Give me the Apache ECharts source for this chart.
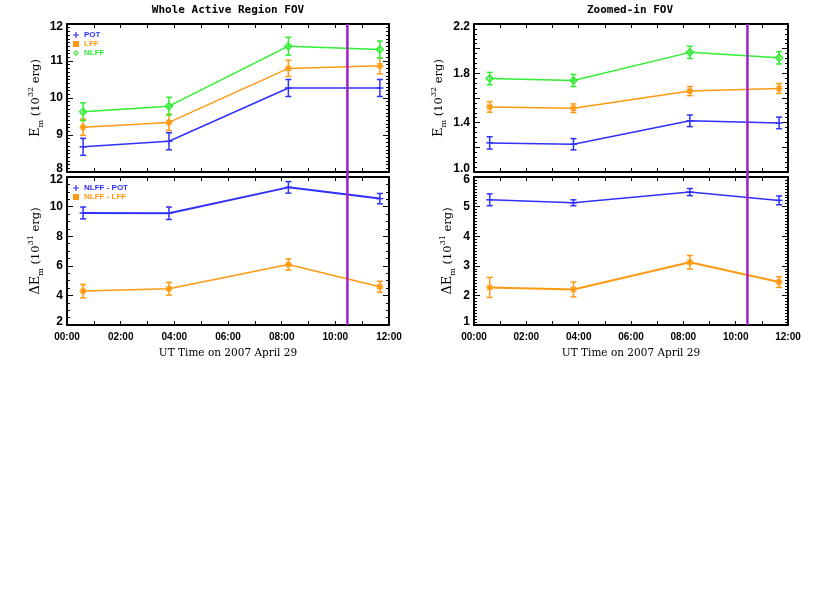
<!DOCTYPE html>
<html>
<head>
<meta charset="utf-8">
<script src="https://cdn.jsdelivr.net/npm/echarts@6.0.0/dist/echarts.min.js"></script>
<style>
  html, body { margin: 0; padding: 0; background: #fff; }
  #chart { width: 830px; height: 593px; }
</style>
</head>
<body>
<div id="chart"></div>
<script>
// UT hours of the four magnetograms, and the flare time (purple line)
var hours = [0.6, 3.8, 8.25, 11.66];
var flareHour = 10.45;
var timeLabels = ['00:00', '02:00', '04:00', '06:00', '08:00', '10:00', '12:00'];

// whole active region, E_m in 1e32 erg
var potWhole = [8.68, 8.83, 10.27, 10.27];
var potWholeErr = [0.23, 0.23, 0.23, 0.23];
var lffWhole = [9.21, 9.34, 10.80, 10.87];
var lffWholeErr = [0.22, 0.22, 0.22, 0.22];
var nlffWhole = [9.63, 9.78, 11.40, 11.31];
var nlffWholeErr = [0.24, 0.24, 0.24, 0.23];
// free energy, 1e31 erg
var dPotWhole = [9.57, 9.55, 11.30, 10.54];
var dPotWholeErr = [0.40, 0.42, 0.39, 0.35];
var dLffWhole = [4.29, 4.45, 6.09, 4.58];
var dLffWholeErr = [0.45, 0.43, 0.38, 0.37];

// zoomed-in FOV
var potZoom = [1.236, 1.225, 1.415, 1.398];
var potZoomErr = [0.050, 0.046, 0.047, 0.047];
var lffZoom = [1.528, 1.517, 1.656, 1.677];
var lffZoomErr = [0.043, 0.035, 0.037, 0.040];
var nlffZoom = [1.758, 1.742, 1.970, 1.926];
var nlffZoomErr = [0.050, 0.049, 0.050, 0.050];
var dPotZoom = [5.23, 5.13, 5.49, 5.21];
var dPotZoomErr = [0.20, 0.10, 0.12, 0.15];
var dLffZoom = [2.27, 2.20, 3.12, 2.45];
var dLffZoomErr = [0.34, 0.25, 0.23, 0.18];

var BLUE = '#3030ff', ORANGE = '#ff9a10', GREEN = '#30ee30', PURPLE = '#a020c8';
var SANS = 'Liberation Sans', SERIF = 'DejaVu Serif', MONO = 'DejaVu Sans Mono';

var plusIcon = 'path://M4,0h2v4h4v2h-4v4h-2v-4h-4v-2h4z';
var starIcon = 'path://M0,0h10v10h-10z';
var diamondIcon = 'path://M5,0L10,5L5,10L0,5Z M5,2.5L2.5,5L5,7.5L7.5,5Z';

var panels = [
  {left: 67, top: 24, width: 322},
  {left: 67, top: 177, width: 322},
  {left: 474, top: 24, width: 314},
  {left: 474, top: 177, width: 314}
];

var grid = panels.map(function (p) {
  return {left: p.left, top: p.top, width: p.width, height: 148};
});
// invisible grids spanning both panels, for the flare line
grid.push({left: 67, top: 24, width: 322, height: 301});
grid.push({left: 474, top: 24, width: 314, height: 301});

var xAxis = [], yAxis = [];

function addX(gi, labels) {
  ['bottom', 'top'].forEach(function (pos) {
    xAxis.push({
      type: 'value', gridIndex: gi, position: pos, min: 0, max: 12, interval: 1,
      axisLine: {show: true, onZero: false, lineStyle: {color: '#000', width: 2}},
      axisTick: {show: true, inside: true, length: 4, lineStyle: {color: '#000', width: 1}},
      splitLine: {show: false},
      axisLabel: {
        show: labels && pos === 'bottom', color: '#000', fontFamily: SANS, fontSize: 10,
        fontWeight: 'bold', margin: 7,
        formatter: function (v) { return v % 2 === 0 ? timeLabels[v / 2] : ''; }
      },
      name: labels && pos === 'bottom' ? 'UT Time on 2007 April 29' : '',
      nameLocation: 'middle', nameGap: 23,
      nameTextStyle: {color: '#000', fontFamily: SERIF, fontSize: 10.5}
    });
  });
}

var tickRich = {
  hi: {fontFamily: SANS, fontSize: 12, fontWeight: 'bold', color: '#000', padding: [6, 0, 0, 0]},
  lo: {fontFamily: SANS, fontSize: 12, fontWeight: 'bold', color: '#000', padding: [0, 0, 6, 0]}
};

function addY(gi, o) {
  ['left', 'right'].forEach(function (pos) {
    yAxis.push({
      type: 'value', gridIndex: gi, position: pos, min: o.min, max: o.max, interval: o.interval,
      axisLine: {show: true, onZero: false, lineStyle: {color: '#000', width: 2}},
      axisTick: {show: true, inside: true, length: 6, lineStyle: {color: '#000', width: 1}},
      minorTick: {show: true, splitNumber: o.minor, length: 3, lineStyle: {color: '#000', width: 1}},
      splitLine: {show: false},
      axisLabel: {
        show: pos === 'left', color: '#000', fontFamily: SANS, fontSize: 12, fontWeight: 'bold',
        margin: 4, rich: tickRich,
        formatter: function (v) {
          var s = o.fmt(v);
          if (s === '') return '';
          if (Math.abs(v - o.max) < 1e-6) return '{hi|' + s + '}';
          if (Math.abs(v - o.min) < 1e-6) return '{lo|' + s + '}';
          return s;
        }
      },
      name: pos === 'left' ? o.name : '',
      nameLocation: 'middle', nameGap: o.gap,
      nameTextStyle: {
        color: '#000', fontFamily: SERIF, fontSize: 11.5, lineHeight: 18,
        rich: {
          e: {fontFamily: SERIF, fontSize: 13, lineHeight: 18, color: '#000'},
          s: {fontFamily: SERIF, fontSize: 8, lineHeight: 10, verticalAlign: 'bottom', color: '#000'},
          p: {fontFamily: SERIF, fontSize: 8, lineHeight: 10, verticalAlign: 'top', color: '#000'}
        }
      }
    });
  });
}

function intLabel(v) { return String(Math.round(v)); }

addX(0, false); addY(0, {min: 8, max: 12, interval: 1, minor: 10, gap: 22,
  fmt: intLabel, name: '{e|E}{s|m} (10{p|32} erg)'});
addX(1, true); addY(1, {min: 2, max: 12, interval: 2, minor: 4, gap: 22,
  fmt: intLabel, name: '{e|ΔE}{s|m} (10{p|31} erg)'});
addX(2, false); addY(2, {min: 1.0, max: 2.2, interval: 0.2, minor: 5, gap: 26,
  fmt: function (v) { return Math.round(v * 10) % 4 === 2 ? v.toFixed(1) : ''; },
  name: '{e|E}{s|m} (10{p|32} erg)'});
addX(3, true); addY(3, {min: 1, max: 6, interval: 1, minor: 10, gap: 17,
  fmt: intLabel, name: '{e|ΔE}{s|m} (10{p|31} erg)'});
[4, 5].forEach(function (gi) {
  xAxis.push({type: 'value', gridIndex: gi, min: 0, max: 12, show: false});
  yAxis.push({type: 'value', gridIndex: gi, min: 0, max: 1, show: false});
});

function errRender(marker) {
  return function (params, api) {
    var x = api.value(0), y = api.value(1), e = api.value(2);
    var c = api.coord([x, y]);
    var lo = api.coord([x, y - e])[1], hi = api.coord([x, y + e])[1];
    var col = api.visual('color');
    var st = {stroke: col, lineWidth: 1.5, fill: null};
    var kids = [
      {type: 'line', shape: {x1: c[0], y1: lo, x2: c[0], y2: hi}, style: st},
      {type: 'line', shape: {x1: c[0] - 3, y1: lo, x2: c[0] + 3, y2: lo}, style: st},
      {type: 'line', shape: {x1: c[0] - 3, y1: hi, x2: c[0] + 3, y2: hi}, style: st}
    ];
    var r = 3.5;
    if (marker === 'plus') {
      kids.push({type: 'line', shape: {x1: c[0] - r, y1: c[1], x2: c[0] + r, y2: c[1]}, style: st});
    } else if (marker === 'star') {
      [0, 45, 90, 135].forEach(function (a) {
        var dx = r * Math.cos(a * Math.PI / 180), dy = r * Math.sin(a * Math.PI / 180);
        kids.push({type: 'line', shape: {x1: c[0] - dx, y1: c[1] - dy, x2: c[0] + dx, y2: c[1] + dy}, style: st});
      });
    } else {
      kids.push({type: 'polygon', shape: {points: [[c[0], c[1] - r], [c[0] + r, c[1]], [c[0], c[1] + r], [c[0] - r, c[1]]]},
        style: {stroke: col, lineWidth: 1.5, fill: 'none'}});
    }
    return {type: 'group', children: kids};
  };
}

var series = [];
function addSeries(name, gi, vals, errs, color, marker, width) {
  var axisIdx = gi * 2;
  series.push({
    name: name, type: 'line', xAxisIndex: axisIdx, yAxisIndex: axisIdx,
    data: hours.map(function (h, i) { return [h, vals[i]]; }),
    symbol: 'none', itemStyle: {color: color},
    lineStyle: {color: color, width: width || 1.5}, z: 3, silent: true
  });
  series.push({
    name: name + ' err', type: 'custom', xAxisIndex: axisIdx, yAxisIndex: axisIdx,
    itemStyle: {color: color}, renderItem: errRender(marker), z: 4, silent: true,
    dimensions: ['t', 'v', 'err'], encode: {x: 0, y: 1},
    data: hours.map(function (h, i) { return [h, vals[i], errs[i]]; })
  });
}

addSeries('POT', 0, potWhole, potWholeErr, BLUE, 'plus');
addSeries('LFF', 0, lffWhole, lffWholeErr, ORANGE, 'star');
addSeries('NLFF', 0, nlffWhole, nlffWholeErr, GREEN, 'diamond');
addSeries('NLFF - POT', 1, dPotWhole, dPotWholeErr, BLUE, 'plus', 2);
addSeries('NLFF - LFF', 1, dLffWhole, dLffWholeErr, ORANGE, 'star');
addSeries('POT zoom', 2, potZoom, potZoomErr, BLUE, 'plus');
addSeries('LFF zoom', 2, lffZoom, lffZoomErr, ORANGE, 'star');
addSeries('NLFF zoom', 2, nlffZoom, nlffZoomErr, GREEN, 'diamond');
addSeries('NLFF - POT zoom', 3, dPotZoom, dPotZoomErr, BLUE, 'plus');
addSeries('NLFF - LFF zoom', 3, dLffZoom, dLffZoomErr, ORANGE, 'star', 2);

// flare time line through both stacked panels
[8, 9].forEach(function (ai) {
  series.push({
    type: 'custom', xAxisIndex: ai, yAxisIndex: ai, z: 10, silent: true,
    data: [[flareHour]], encode: {x: 0},
    renderItem: function (params, api) {
      var a = api.coord([api.value(0), 0]), b = api.coord([api.value(0), 1]);
      return {type: 'line', shape: {x1: a[0], y1: a[1], x2: b[0], y2: b[1]},
        style: {stroke: PURPLE, lineWidth: 2.5}};
    }
  });
});

function legendItem(name, icon, color) {
  return {name: name, icon: icon, textStyle: {color: color}};
}
var legendText = {fontFamily: SANS, fontSize: 8, fontWeight: 'bold'};

var option = {
  backgroundColor: '#fff',
  animation: false,
  title: [
    {text: 'Whole Active Region FOV', left: 228, top: 5, textAlign: 'center', padding: 0,
      textStyle: {fontFamily: MONO, fontSize: 11, fontWeight: 'bold', color: '#000'}},
    {text: 'Zoomed-in FOV', left: 630, top: 5, textAlign: 'center', padding: 0,
      textStyle: {fontFamily: MONO, fontSize: 11, fontWeight: 'bold', color: '#000'}}
  ],
  legend: [
    {left: 73, top: 31, orient: 'vertical', itemGap: 1, itemWidth: 6, itemHeight: 6, padding: 0,
      selectedMode: false, textStyle: legendText,
      data: [legendItem('POT', plusIcon, BLUE), legendItem('LFF', starIcon, ORANGE), legendItem('NLFF', diamondIcon, GREEN)]},
    {left: 73, top: 184, orient: 'vertical', itemGap: 1, itemWidth: 6, itemHeight: 6, padding: 0,
      selectedMode: false, textStyle: legendText,
      data: [legendItem('NLFF - POT', plusIcon, BLUE), legendItem('NLFF - LFF', starIcon, ORANGE)]}
  ],
  grid: grid,
  xAxis: xAxis,
  yAxis: yAxis,
  series: series
};

var chart = echarts.init(document.getElementById('chart'));
chart.setOption(option);
</script>
</body>
</html>
